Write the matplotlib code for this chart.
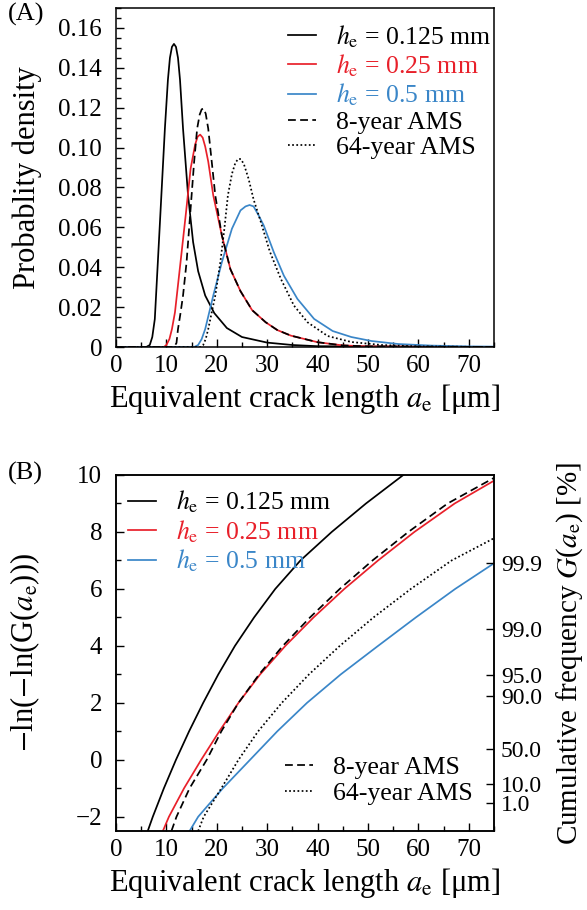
import numpy as np
import matplotlib
matplotlib.use("Agg")
import matplotlib.pyplot as plt
from matplotlib.ticker import MultipleLocator, FuncFormatter, FixedLocator, FixedFormatter
from matplotlib.lines import Line2D

plt.rcParams['font.family'] = ['Liberation Serif', 'DejaVu Serif']
plt.rcParams['mathtext.fontset'] = 'stix'
plt.rcParams['axes.linewidth'] = 1.1

RED = '#e8202a'
BLUE = '#3a86c8'

# ---- (A) probability density ----
ae_k = [0, 6.0, 6.7, 7.2, 7.7, 8.3, 9.0, 9.7, 10.3, 10.7, 11.1, 11.5, 11.9, 12.3, 12.7, 13.3, 14.3,
        15.3, 16.3, 17.7, 19.5, 22.0, 25.0, 30.0, 35.0, 40.0, 75]
pd_k = [0, 0, 0.001, 0.005, 0.014, 0.0425, 0.076, 0.1095, 0.134, 0.145, 0.1505, 0.152, 0.1505, 0.145, 0.134, 0.1095, 0.076,
        0.0526, 0.038, 0.0258, 0.017, 0.0095, 0.005, 0.0022, 0.001, 0.0004, 0]

ae_r = [0, 9.5, 10.0, 10.6, 11.1, 11.7, 12.8, 13.9, 14.8, 15.7, 16.2, 16.7, 17.2, 17.7, 18.3, 19.3,
        21.0, 22.7, 24.7, 27.0, 29.7, 32.0, 34.7, 40.0, 45.0, 50.0, 75]
pd_r = [0, 0, 0.001, 0.004, 0.009, 0.0174, 0.0425, 0.0677, 0.0894, 0.1015, 0.1055, 0.1065, 0.1050, 0.1005, 0.093, 0.076,
        0.056, 0.039, 0.028, 0.0185, 0.0124, 0.0085, 0.0057, 0.0024, 0.0008, 0.0003, 0]

ae_b = [0, 15.5, 16.3, 17.0, 17.7, 19.3, 21.0, 23.0, 24.7, 25.7, 26.5, 27.3, 28.3, 29.3, 31.3,
        33.3, 36.0, 39.3, 43.0, 46.7, 50.7, 56.0, 62.6, 70.0, 75]
pd_b = [0, 0, 0.001, 0.004, 0.009, 0.0258, 0.0425, 0.0593, 0.0685, 0.0705, 0.0712, 0.0705, 0.066, 0.061, 0.0476,
        0.0358, 0.0241, 0.0141, 0.008, 0.005, 0.003, 0.0015, 0.0007, 0.0003, 0.0002]

ae_8y = [0, 11.5, 12.0, 12.3, 12.8, 13.3, 14.0, 15.0, 15.5, 16.1, 16.6, 17.0, 17.4, 17.8, 18.3, 19.0,
         19.7, 21.0, 22.7, 24.7, 27.0, 29.7, 32.0, 34.7, 40.0, 45.0, 50.0, 75]
pd_8y = [0, 0, 0.002, 0.009, 0.017, 0.0258, 0.0425, 0.076, 0.0928, 0.1095, 0.1165, 0.1192, 0.1196, 0.117, 0.1095, 0.0928,
         0.076, 0.056, 0.039, 0.028, 0.0185, 0.0124, 0.0085, 0.0057, 0.0024, 0.0008, 0.0003, 0]

ae_64y = [0, 16.8, 17.3, 17.8, 18.3, 19.7, 20.7, 21.5, 22.2, 23.0, 23.7, 24.3, 24.8, 25.4, 26.3, 27.3,
          28.7, 30.5, 32.7, 35.3, 38.0, 42.0, 46.7, 52.7, 60.0, 75]
pd_64y = [0, 0, 0.001, 0.004, 0.009, 0.0258, 0.0425, 0.0593, 0.076, 0.0868, 0.0925, 0.0944, 0.0942, 0.0915, 0.0844, 0.074,
          0.063, 0.048, 0.0342, 0.0208, 0.0124, 0.0055, 0.0025, 0.001, 0.0003, 0]

# ---- (B) reduced variate -ln(-ln G) against a_e ----
yB_k = [-2.5, -2, -1, 0, 1, 2, 3, 4, 5, 6, 7, 8, 9, 10]
aB_k = [6.3, 7.3, 9.5, 11.9, 14.5, 17.3, 20.3, 23.6, 27.4, 31.6, 36.6, 42.8, 49.6, 57.0]

yB_r = [-2.5, -2, -1, 0, 1, 2, 3, 4, 5, 6, 7, 8, 9, 9.8]
aB_r = [9.3, 10.5, 13.5, 16.9, 20.5, 24.3, 28.6, 33.6, 39.2, 45.3, 52.0, 59.2, 67.2, 75.0]

yB_b = [-2.5, -2, -1, 0, 1, 2, 3, 4, 5, 6, 6.9]
aB_b = [14.6, 16.3, 21.2, 26.6, 32.0, 37.9, 44.6, 52.0, 59.5, 67.3, 75.0]

yB_8y = [-2.5, -2, -1, 0, 1, 2, 3, 4, 5, 6, 7, 8, 9, 9.9]
aB_8y = [11.0, 12.0, 14.6, 18.0, 20.9, 24.3, 28.4, 33.1, 38.5, 44.4, 50.9, 58.0, 65.8, 75.0]

yB_64y = [-2.5, -2, -1, 0, 1, 2, 3, 4, 5, 6, 7, 7.78]
aB_64y = [16.3, 17.4, 20.9, 24.3, 28.2, 32.9, 38.3, 44.4, 51.1, 58.5, 66.6, 75.0]

# right axis of (B): cumulative frequency in %
cum_pct = [1.0, 10.0, 50.0, 90.0, 95.0, 99.0, 99.9]
cum_lbl = ['1.0', '10.0', '50.0', '90.0', '95.0', '99.0', '99.9']

he_labels = [r'$h_\mathrm{e}$ = 0.125 mm', r'$h_\mathrm{e}$ = 0.25 mm', r'$h_\mathrm{e}$ = 0.5 mm']
ams_labels = ['8-year AMS', '64-year AMS']

LW = 1.25
DASH = (0, (4.5, 2.5))
DOT = (0, (1, 1.4))
TICK_FS = 18
LAB_FS = 22
LEG_FS = 18.5

W, H = 587, 910
fig = plt.figure(figsize=(W / 100, H / 100), dpi=100)


def box(l, t, r, b):
    return [l / W, 1 - b / H, (r - l) / W, (b - t) / H]


def style(ax):
    ax.tick_params(which='both', direction='in', top=False, right=False, labelsize=TICK_FS)
    ax.tick_params(which='major', length=6, width=1.0)
    ax.tick_params(which='minor', length=3.5, width=1.0)
    ax.tick_params(axis='x', pad=6)
    ax.tick_params(axis='y', pad=10)
    ax.xaxis.set_major_locator(MultipleLocator(10))
    ax.xaxis.set_minor_locator(MultipleLocator(5))


# ----- panel A -----
axA = fig.add_axes(box(116, 8, 494, 347))
axA.plot(ae_k, pd_k, color='black', lw=LW)
axA.plot(ae_r, pd_r, color=RED, lw=LW)
axA.plot(ae_b, pd_b, color=BLUE, lw=LW)
axA.plot(ae_8y, pd_8y, color='black', lw=LW, linestyle=DASH)
axA.plot(ae_64y, pd_64y, color='black', lw=LW, linestyle=DOT)
axA.set_xlim(0, 75)
axA.set_ylim(0, 0.17)
style(axA)
axA.yaxis.set_major_locator(MultipleLocator(0.02))
axA.yaxis.set_minor_locator(MultipleLocator(0.005))
axA.yaxis.set_major_formatter(FuncFormatter(lambda v, p: '0' if abs(v) < 1e-9 else f'{v:.2f}'))
axA.set_ylabel('Probablity density', fontsize=LAB_FS)
axA.set_xlabel(r'Equivalent crack length $a_\mathrm{e}$ [μm]', fontsize=LAB_FS, labelpad=3)
axA.yaxis.set_label_coords(-0.195, 0.5)

hA = [Line2D([], [], color='black', lw=LW),
      Line2D([], [], color=RED, lw=LW),
      Line2D([], [], color=BLUE, lw=LW),
      Line2D([], [], color='black', lw=LW, linestyle=DASH),
      Line2D([], [], color='black', lw=LW, linestyle=DOT)]
axA.legend(hA, he_labels + ams_labels, loc='upper left', bbox_to_anchor=(0.455, 0.955),
           frameon=False, fontsize=LEG_FS, handlelength=1.1, handletextpad=0.75,
           labelspacing=0.1, borderaxespad=0, borderpad=0,
           labelcolor=['black', RED, BLUE, 'black', 'black'])
fig.text(8 / W, 1 - 3 / H, '(A)', fontsize=19, va='top', ha='left')

# ----- panel B -----
axB = fig.add_axes(box(116, 475, 494, 831))
axB.plot(aB_k, yB_k, color='black', lw=LW)
axB.plot(aB_r, yB_r, color=RED, lw=LW)
axB.plot(aB_b, yB_b, color=BLUE, lw=LW)
axB.plot(aB_8y, yB_8y, color='black', lw=LW, linestyle=DASH)
axB.plot(aB_64y, yB_64y, color='black', lw=LW, linestyle=DOT)
axB.set_xlim(0, 75)
axB.set_ylim(-2.5, 10)
style(axB)
axB.yaxis.set_major_locator(MultipleLocator(2))
axB.yaxis.set_minor_locator(MultipleLocator(1))
axB.set_ylabel(r'$-$ln($-$ln(G($a_\mathrm{e}$)))', fontsize=LAB_FS)
axB.set_xlabel(r'Equivalent crack length $a_\mathrm{e}$ [μm]', fontsize=LAB_FS, labelpad=3)
axB.yaxis.set_label_coords(-0.195, 0.5)

leg1 = axB.legend(hA[:3], he_labels, loc='upper left', bbox_to_anchor=(0.032, 0.962),
                  frameon=False, fontsize=LEG_FS, handlelength=1.1, handletextpad=0.75,
                  labelspacing=0.12, borderaxespad=0, borderpad=0,
                  labelcolor=['black', RED, BLUE])
axB.add_artist(leg1)
axB.legend(hA[3:], ams_labels, loc='upper left', bbox_to_anchor=(0.447, 0.212),
           frameon=False, fontsize=LEG_FS, handlelength=1.1, handletextpad=0.75,
           labelspacing=0.14, borderaxespad=0, borderpad=0)
fig.text(8 / W, 1 - 462 / H, '(B)', fontsize=19, va='top', ha='left')

axR = axB.twinx()
axR.set_ylim(axB.get_ylim())
red_var = [-np.log(-np.log(p / 100.0)) for p in cum_pct]
axR.yaxis.set_major_locator(FixedLocator(red_var))
axR.yaxis.set_major_formatter(FixedFormatter(cum_lbl))
axR.yaxis.set_minor_locator(FixedLocator([]))
axR.tick_params(axis='y', which='major', direction='in', length=6, width=1.0, pad=5, labelsize=17)
axR.set_ylabel(r'Cumulative frequency $G$($a_\mathrm{e}$) [%]', fontsize=21)
axR.yaxis.set_label_coords(1.16, 0.5)

fig.savefig('out.png', dpi=100)
